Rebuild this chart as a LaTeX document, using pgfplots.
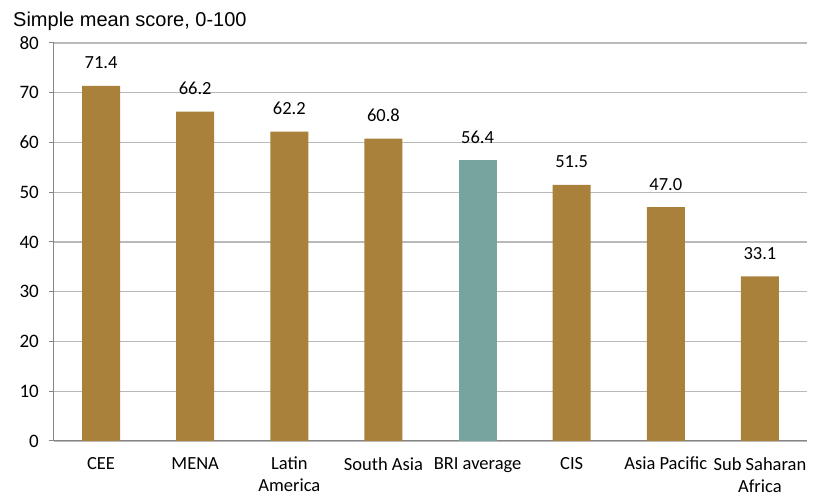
\documentclass[border=0pt]{standalone}
\usepackage{fontspec}
\setmainfont{Carlito}
\newfontfamily\titlefont{Liberation Sans}
\usepackage{pgfplots}
\pgfplotsset{compat=1.18}

\definecolor{barbrown}{RGB}{169,129,58}
\definecolor{barteal}{RGB}{118,164,158}
\definecolor{gridgray}{RGB}{185,185,185}
\definecolor{axisgray}{RGB}{134,134,134}

\begin{document}
\begin{tikzpicture}
% fixed page frame around the plot area
\path[use as bounding box] (-54pt,-56pt) rectangle (761pt,441pt);
\begin{axis}[
  at={(0,0)}, anchor=south west,
  scale only axis,
  width=753pt, height=398pt,
  ybar, bar width=0.404, bar shift=0pt,
  xmin=-0.5, xmax=7.5,
  ymin=0, ymax=80,
  ytick={0,10,...,80},
  xtick={0,...,7},
  xticklabels={CEE, MENA, {Latin\\America}, South Asia, BRI average, CIS, Asia Pacific, {Sub Saharan\\Africa}},
  major x tick style={draw=none},
  extra x ticks={-0.5,0.5,...,7.5},
  extra x tick labels={},
  extra x tick style={major tick length=5pt, tick align=outside, major tick style={draw=axisgray, line width=1pt}, xmajorgrids=false},
  axis x line*=bottom, axis y line*=left,
  axis line style={draw=axisgray, line width=1pt},
  ymajorgrids, grid style={draw=gridgray, line width=1.1pt},
  tick align=outside, major tick length=5pt,
  major y tick style={draw=axisgray, line width=1pt},
  /pgf/number format/assume math mode=true,
  tick label style={font=\fontsize{18.5}{22}\selectfont, text=black},
  yticklabel style={font=\fontsize{19}{22}\selectfont},
  xticklabel style={align=center, anchor=north, inner sep=0pt, yshift=-11pt},
  yticklabel style={anchor=east, inner sep=0pt, xshift=-10pt},
  nodes near coords,
  nodes near coords style={font=\fontsize{18.5}{22}\selectfont, anchor=base, inner sep=0pt, yshift=17pt,
    /pgf/number format/.cd, fixed, fixed zerofill, precision=1},
  clip=false,
]
\addplot[fill=barbrown, draw=none] coordinates {
  (0,71.4) (1,66.2) (2,62.2) (3,60.8) (5,51.5) (6,47.0) (7,33.1)
};
\addplot[fill=barteal, draw=none] coordinates {(4,56.4)};
\end{axis}
\node[anchor=base west, inner sep=0pt, font=\titlefont\fontsize{20}{23}\selectfont] at (-41pt,414pt) {Simple mean score, 0-100};
\end{tikzpicture}
\end{document}
